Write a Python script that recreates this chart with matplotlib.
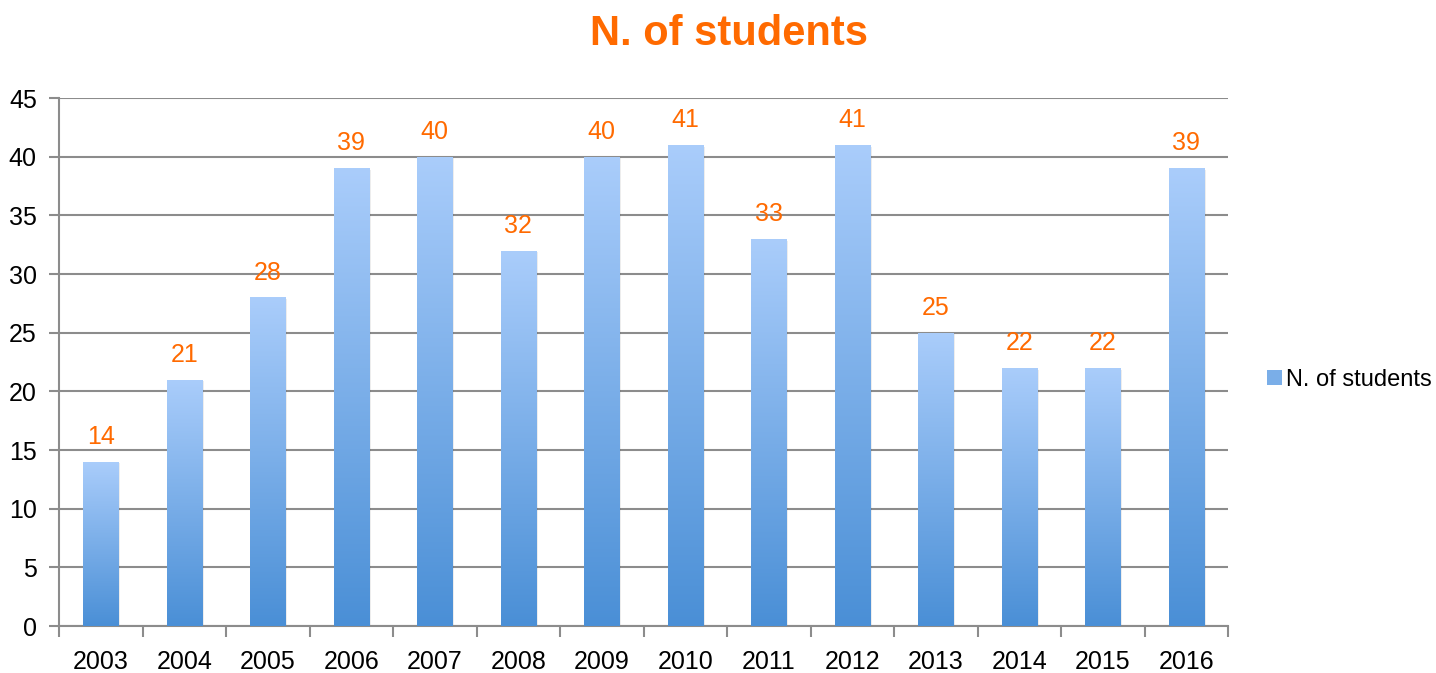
import matplotlib
matplotlib.use('Agg')
import matplotlib.pyplot as plt
import matplotlib.font_manager as fm
from matplotlib.colors import LinearSegmentedColormap
from matplotlib.patches import Patch
import numpy as np

anni = ['2003', '2004', '2005', '2006', '2007', '2008', '2009',
        '2010', '2011', '2012', '2013', '2014', '2015', '2016']
studenti = [14, 21, 28, 39, 40, 32, 40, 41, 33, 41, 25, 22, 22, 39]
y_ticks = [0, 5, 10, 15, 20, 25, 30, 35, 40, 45]

# font stretto se disponibile
nomi = {f.name for f in fm.fontManager.ttflist}
font = 'Liberation Sans Narrow' if 'Liberation Sans Narrow' in nomi else 'Liberation Sans'
plt.rcParams['font.family'] = [font, 'DejaVu Sans']

arancio = '#ff6a00'
grigio = '#8c8c8c'
sfumatura = LinearSegmentedColormap.from_list('blu', ['#4a8fd6', '#aacdfb'])

fig = plt.figure(figsize=(14.36, 6.73), dpi=100)
ax = fig.add_axes([59 / 1436, 1 - 626 / 673, (1228 - 59) / 1436, (626 - 98) / 673])

x = np.arange(len(anni))
larghezza = 0.42
barre = ax.bar(x, studenti, width=larghezza, color='none', zorder=3)

# gradiente per ogni barra
grad = np.linspace(0, 1, 256).reshape(-1, 1)
for b in barre:
    x0, y0 = b.get_x(), b.get_y()
    w, h = b.get_width(), b.get_height()
    # ombra leggera
    ax.bar(x0 + w / 2 + 0.025, h, width=w, bottom=-0.15, color='#000000',
           alpha=0.07, zorder=2)
    im = ax.imshow(grad, extent=[x0, x0 + w, y0, y0 + h], origin='lower',
                   cmap=sfumatura, aspect='auto', zorder=3)
    im.set_clip_path(b)

# etichette dei valori
for xi, v in zip(x, studenti):
    ax.text(xi, v + 1.1, str(v), ha='center', va='bottom', color=arancio,
            fontsize=18)

ax.set_xlim(-0.5, len(anni) - 0.5)
ax.set_ylim(0, 45)
ax.set_yticks(y_ticks)
ax.set_yticklabels([str(t) for t in y_ticks], fontsize=18)
ax.set_xticks(x)
ax.set_xticklabels(anni, fontsize=18)
ax.tick_params(axis='x', length=0, pad=17)
ax.set_xticks(np.arange(-0.5, len(anni)), minor=True)
ax.tick_params(axis='x', which='minor', length=8, width=1.5, color=grigio)
ax.tick_params(axis='y', length=7, width=1.5, color=grigio, pad=9)

ax.grid(axis='y', color=grigio, linewidth=1.5, zorder=0)
ax.set_axisbelow(True)
for lato in ['top', 'right']:
    ax.spines[lato].set_visible(False)
for lato in ['left', 'bottom']:
    ax.spines[lato].set_color(grigio)
    ax.spines[lato].set_linewidth(1.5)

fig.suptitle('N. of students', x=729 / 1436, y=1 - 34 / 673, va='center',
             color=arancio, fontsize=30, fontweight='bold')

fig.legend(handles=[Patch(facecolor='#7aaee8', label='N. of students')],
           loc='center right', bbox_to_anchor=(1432 / 1436, 1 - 380 / 673),
           frameon=False, fontsize=17, handlelength=0.6, handleheight=0.6,
           handletextpad=0.2, borderpad=0, borderaxespad=0)

fig.savefig('out.png', dpi=100)
